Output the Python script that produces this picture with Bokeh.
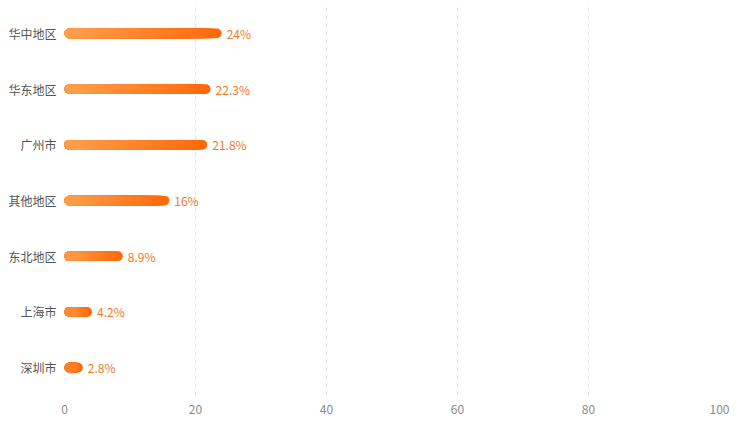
from bokeh.plotting import figure
from bokeh.models import ColumnDataSource, Range1d, FixedTicker
from bokeh.core.properties import value
from bokeh.embed import file_html
from bokeh.resources import INLINE

categories = ["华中地区", "华东地区", "广州市", "其他地区", "东北地区", "上海市", "深圳市"]
shares = [24, 22.3, 21.8, 16, 8.9, 4.2, 2.8]
x_ticks = [0, 20, 40, 60, 80, 100]

FONT = "Noto Sans CJK SC"
n = len(categories)
ypos = [n - 1 - i for i in range(n)]

p = figure(width=735, height=420, output_backend="svg", toolbar_location=None,
           x_range=Range1d(0, 100), y_range=Range1d(-0.5, n - 1 + 0.5),
           min_border_left=64, min_border_right=16, min_border_top=5, min_border_bottom=25)
p.outline_line_color = None
p.background_fill_color = "white"
p.border_fill_color = "white"

# grid
p.ygrid.grid_line_color = None
p.xgrid.grid_line_color = "#E0E0E0"
p.xgrid.grid_line_dash = "4 4"
p.xgrid.grid_line_width = 1

# axes
p.xaxis.ticker = FixedTicker(ticks=x_ticks)
p.yaxis.ticker = FixedTicker(ticks=ypos)
p.yaxis.major_label_overrides = {y: c for y, c in zip(ypos, categories)}
for ax in (p.xaxis[0], p.yaxis[0]):
    ax.axis_line_color = None
    ax.major_tick_line_color = None
    ax.minor_tick_line_color = None
    ax.major_label_text_font = FONT
    ax.major_label_text_font_size = "12px"
p.xaxis.major_label_text_color = "#8A8A8A"
p.yaxis.major_label_text_color = "#555555"
p.xaxis.major_label_standoff = 3
p.yaxis.major_label_standoff = 2

# gradient bars via layered rounded bars (longest/darkest drawn first)
c0 = (0xFF, 0xA0, 0x4E)
c1 = (0xFF, 0x68, 0x08)
N = 40
MIN_W = 1.7  # keep each layer wider than its rounded caps
for k in range(N, 0, -1):
    t = (k - 1) / (N - 1)
    col = "#%02x%02x%02x" % tuple(int(round(a + (b - a) * t)) for a, b in zip(c0, c1))
    ys, rs = [], []
    for y, v in zip(ypos, shares):
        r = v * k / N
        if r >= MIN_W or k == N:
            ys.append(y)
            rs.append(r)
    if not ys:
        continue
    src = ColumnDataSource(dict(y=ys, right=rs))
    p.hbar(y="y", left=0, right="right", height=0.175, source=src,
           fill_color=col, line_color=None, border_radius=5)

lab = ColumnDataSource(dict(y=ypos, x=shares, t=[f"{v:g}%" for v in shares]))
p.text(x="x", y="y", text="t", source=lab, x_offset=5, text_align="left",
       text_baseline="middle", text_color="#F07A26", text_font=value(FONT),
       text_font_size="12px")

open("out.html", "w").write(file_html(p, INLINE))
